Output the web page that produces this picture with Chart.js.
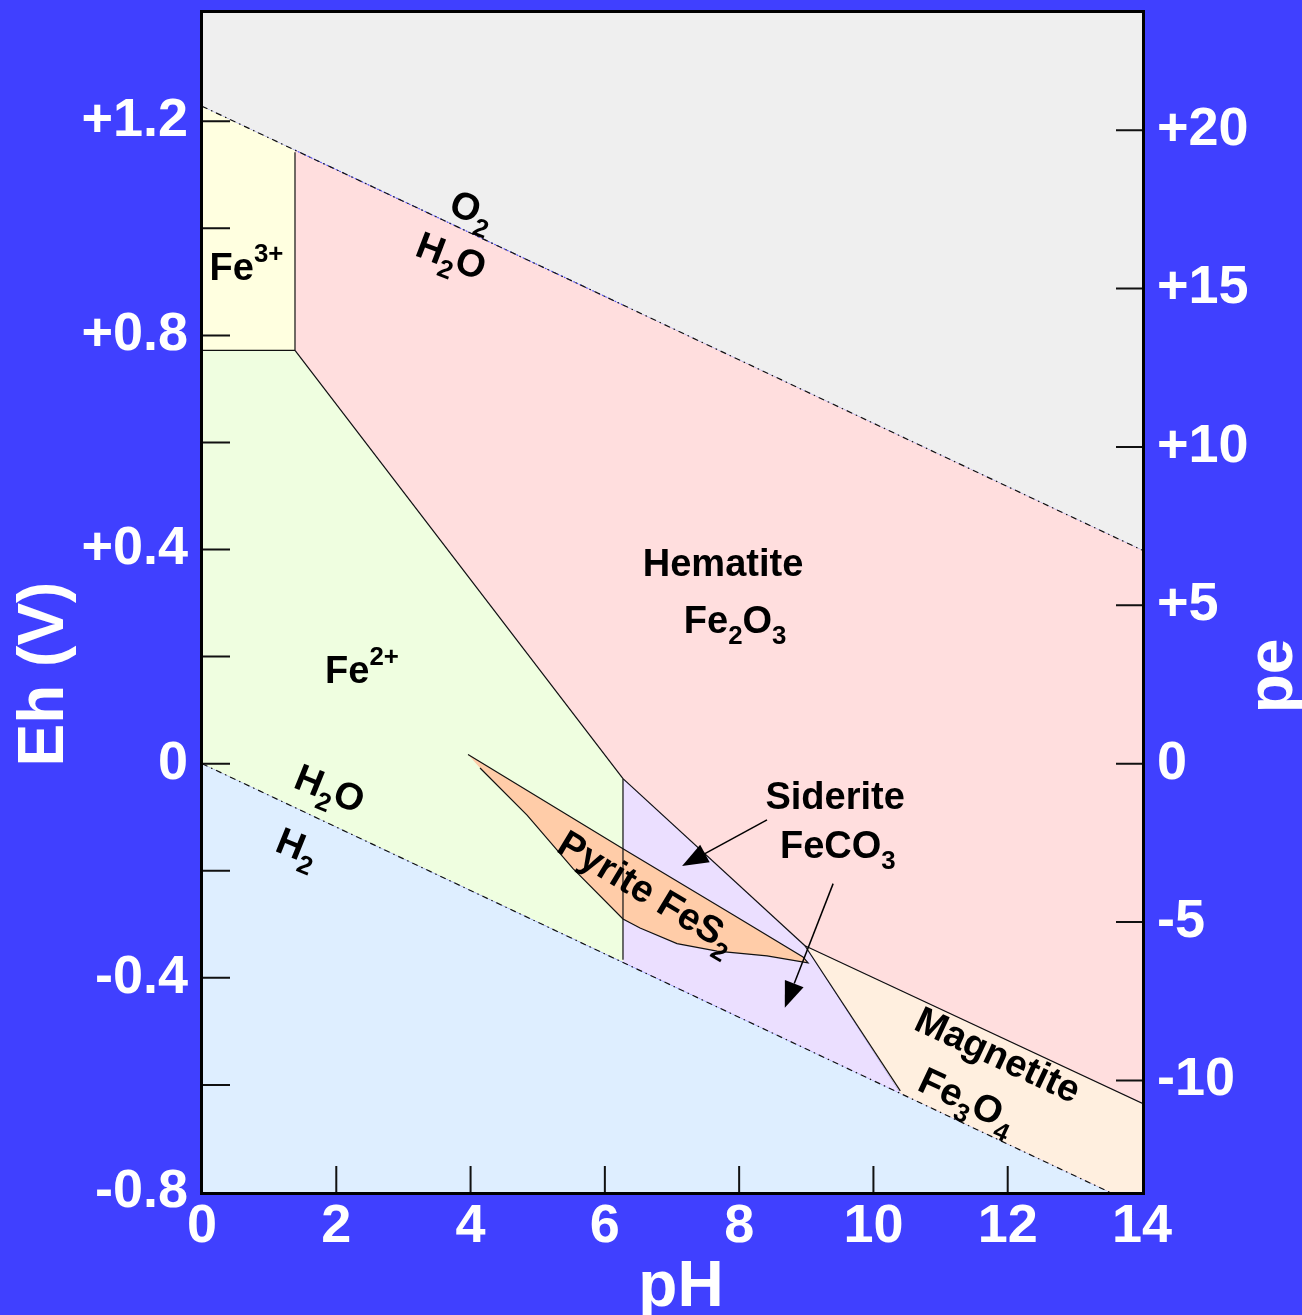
<!DOCTYPE html>
<html><head><meta charset="utf-8">
<script src="https://cdn.jsdelivr.net/npm/chart.js@4.4.1/dist/chart.umd.min.js"></script>
<style>
html,body{margin:0;padding:0;background:#4040ff;overflow:hidden}
#wrap{width:1302px;height:1315px;position:relative}
canvas{display:block}
</style></head><body>
<div id="wrap"><canvas id="c" width="1302" height="1315"></canvas></div>
<script>
// ---------- tick values / labels ----------
const pHTicks = [0, 2, 4, 6, 8, 10, 12, 14];
const pHTickLabels = ['0', '2', '4', '6', '8', '10', '12', '14'];
const ehTicks = [-0.8, -0.6, -0.4, -0.2, 0, 0.2, 0.4, 0.6, 0.8, 1.0, 1.2];
const ehLabelValues = [-0.8, -0.4, 0, 0.4, 0.8, 1.2];
const ehLabelTexts = ['-0.8', '-0.4', '0', '+0.4', '+0.8', '+1.2'];
const peTicks = [-10, -5, 0, 5, 10, 15, 20];
const peTickLabels = ['-10', '-5', '0', '+5', '+10', '+15', '+20'];
const ehRange = [-0.8, 1.404];
const peRange = [-13.52, 23.73];

// ---------- water stability lines [pH, Eh] ----------
const o2Line = [[0, 1.228], [14, 0.399]];
const h2Line = [[0, 0], [14, -0.829]];
const o2Artifact = [[1.385, 1.146], [6.3, 0.855]];

// ---------- stability fields [pH, Eh] ----------
const fieldO2 = [[0, 1.228], [14, 0.399], [14, 1.6], [0, 1.6]];
const fieldFe3 = [[0, 1.228], [1.385, 1.146], [1.385, 0.772], [0, 0.772]];
const fieldHematite = [[1.385, 1.146], [14, 0.399], [14, -0.634], [8.98, -0.340], [6.27, -0.028], [1.385, 0.772]];
const fieldFe2 = [[0, 0.772], [1.385, 0.772], [6.27, -0.028], [6.27, -0.371], [0, 0]];
const fieldSiderite = [[6.27, -0.028], [8.98, -0.340], [10.40, -0.616], [6.27, -0.371]];
const fieldMagnetite = [[8.98, -0.340], [14, -0.634], [14, -0.829], [10.40, -0.616]];
const fieldH2 = [[0, 0], [14, -0.829], [14, -1.0], [0, -1.0]];
const fieldPyrite = [[3.962, 0.017], [6.270, -0.159], [7.909, -0.282], [8.951, -0.361], [9.026, -0.372],
  [8.415, -0.359], [7.671, -0.350], [7.075, -0.336], [6.524, -0.307], [6.270, -0.290],
  [5.526, -0.196], [4.841, -0.096], [4.141, -0.008]];

// ---------- field boundaries [pH, Eh] ----------
const bFe3Horiz = [[0, 0.772], [1.385, 0.772]];
const bFe3Vert = [[1.385, 1.142], [1.385, 0.772]];
const bFe2Hem = [[1.385, 0.772], [6.27, -0.028]];
const bFe2Sid = [[6.27, -0.028], [6.27, -0.366]];
const bSidHem = [[6.27, -0.028], [8.98, -0.340]];
const bHemMag = [[8.98, -0.340], [14, -0.634]];
const bSidMag = [[8.98, -0.340], [10.40, -0.611]];

const pts = a => a.map(([x, y]) => ({x, y}));
const FONT = '"Liberation Sans", Arial, sans-serif';

function field(arr, color, order) {
  return {data: pts(arr), showLine: true, fill: 'shape', backgroundColor: color,
    borderColor: 'rgba(0,0,0,0)', borderWidth: 0, pointRadius: 0, order};
}
function line(arr, dash, order, color, width) {
  return {data: pts(arr), showLine: true, fill: false, borderColor: color || '#111',
    borderWidth: width || 1.2, borderDash: dash || [], pointRadius: 0, order};
}

const datasets = [
  line(o2Line, [6, 4, 1.5, 4], 0),
  line(h2Line, [6, 4, 1.5, 4], 0),
  line(o2Artifact, [1.5, 2], 0, 'rgba(70,70,255,0.9)', 1.2),
  line(bFe3Horiz, [], 0),
  line(bFe3Vert, [], 0),
  line(bFe2Hem, [], 0),
  line(bFe2Sid, [], 0),
  line(bSidHem, [], 0),
  line(bHemMag, [], 0),
  line(bSidMag, [], 0),
  Object.assign(field(fieldPyrite, '#ffcca8', 1), {borderColor: '#111', borderWidth: 1.2}),
  field(fieldO2, '#efefef', 5),
  field(fieldFe3, '#ffffe0', 5),
  field(fieldHematite, '#ffdede', 5),
  field(fieldFe2, '#effee0', 5),
  field(fieldSiderite, '#ebdfff', 5),
  field(fieldMagnetite, '#ffefdf', 5),
  field(fieldH2, '#deeeff', 5)
];

// ---------- annotation text ----------
const annotations = [
  {parts: [['Fe', 0], ['3+', 1]], at: [0.663, 0.929], rot: 0},
  {parts: [['Fe', 0], ['2+', 1]], at: [2.383, 0.176], rot: 0},
  {parts: [['Hematite', 0]], at: [7.76, 0.376], rot: 0},
  {parts: [['Fe', 0], ['2', -1], ['O', 0], ['3', -1]], at: [7.94, 0.269], rot: 0},
  {parts: [['Siderite', 0]], at: [9.43, -0.060], rot: 0},
  {parts: [['FeCO', 0], ['3', -1]], at: [9.47, -0.151], rot: 0},
  {parts: [['O', 0], ['2', -1]], at: [4.03, 1.037], rot: 21},
  {parts: [['H', 0], ['2', -1], ['O', 0]], at: [3.72, 0.950], rot: 21},
  {parts: [['H', 0], ['2', -1], ['O', 0]], at: [1.91, -0.045], rot: 22},
  {parts: [['H', 0], ['2', -1]], at: [1.43, -0.153], rot: 22},
  {parts: [['Pyrite FeS', 0], ['2', -1]], at: [6.64, -0.237], rot: 31},
  {parts: [['Magnetite', 0]], at: [11.86, -0.542], rot: 25},
  {parts: [['Fe', 0], ['3', -1], ['O', 0], ['4', -1]], at: [11.41, -0.626], rot: 25}
];
const arrows = [
  {from: [8.415, -0.105], to: [7.15, -0.191]},
  {from: [9.40, -0.224], to: [8.68, -0.456]}
];

function drawRich(ctx, parts, cx, cy, size, rot) {
  ctx.save();
  ctx.translate(cx, cy);
  ctx.rotate(rot * Math.PI / 180);
  let w = 0;
  const items = parts.map(([t, m]) => {
    const s = m === 0 ? size : size * 0.68;
    ctx.font = `bold ${s}px ${FONT}`;
    const it = {t, s, x: w, dy: m === 0 ? 0 : (m < 0 ? size * 0.28 : -size * 0.48)};
    w += ctx.measureText(t).width;
    return it;
  });
  ctx.fillStyle = '#000';
  ctx.textBaseline = 'alphabetic';
  ctx.textAlign = 'left';
  items.forEach(it => {
    ctx.font = `bold ${it.s}px ${FONT}`;
    ctx.fillText(it.t, -w / 2 + it.x, size * 0.358 + it.dy);
  });
  ctx.restore();
}

const overlay = {
  id: 'overlay',
  afterDatasetsDraw(chart) {
    const {ctx, chartArea: a, scales} = chart;
    const X = v => scales.x.getPixelForValue(v);
    const Y = v => scales.y.getPixelForValue(v);
    ctx.save();
    // inward ticks
    ctx.strokeStyle = '#111';
    ctx.lineWidth = 2;
    ctx.beginPath();
    scales.x.ticks.forEach(t => {
      const px = X(t.value);
      if (px <= a.left + 2 || px >= a.right - 2) return;
      ctx.moveTo(px, a.bottom); ctx.lineTo(px, a.bottom - 26);
    });
    scales.y.ticks.forEach(t => {
      const py = Y(t.value);
      if (py <= a.top + 2 || py >= a.bottom - 2) return;
      ctx.moveTo(a.left, py); ctx.lineTo(a.left + 28, py);
    });
    scales.y2.ticks.forEach(t => {
      const py = scales.y2.getPixelForValue(t.value);
      if (py <= a.top + 2 || py >= a.bottom - 2) return;
      ctx.moveTo(a.right, py); ctx.lineTo(a.right - 26, py);
    });
    ctx.stroke();
    // frame
    ctx.lineWidth = 3;
    ctx.strokeStyle = '#000';
    ctx.strokeRect(a.left - 0.5, a.top - 0.5, a.right - a.left + 2, a.bottom - a.top + 2);
    // arrows
    arrows.forEach(ar => {
      const x1 = X(ar.from[0]), y1 = Y(ar.from[1]), x2 = X(ar.to[0]), y2 = Y(ar.to[1]);
      const ang = Math.atan2(y2 - y1, x2 - x1);
      const hl = 26, hw = 10;
      const bx = x2 - hl * Math.cos(ang), by = y2 - hl * Math.sin(ang);
      ctx.lineWidth = 1.5;
      ctx.beginPath(); ctx.moveTo(x1, y1); ctx.lineTo(bx, by); ctx.stroke();
      ctx.fillStyle = '#000';
      ctx.beginPath();
      ctx.moveTo(x2, y2);
      ctx.lineTo(bx + hw * Math.sin(ang), by - hw * Math.cos(ang));
      ctx.lineTo(bx - hw * Math.sin(ang), by + hw * Math.cos(ang));
      ctx.closePath(); ctx.fill();
    });
    // labels
    annotations.forEach(l => drawRich(ctx, l.parts, X(l.at[0]), Y(l.at[1]), 38, l.rot));
    ctx.restore();
  },
  afterDraw(chart) {
    const {ctx} = chart;
    ctx.save();
    ctx.fillStyle = '#fff';
    ctx.font = `bold 64px ${FONT}`;
    ctx.textAlign = 'center';
    ctx.textBaseline = 'alphabetic';
    // Eh (V)
    ctx.save(); ctx.translate(63, 674); ctx.rotate(-Math.PI / 2); ctx.fillText('Eh (V)', 0, 0); ctx.restore();
    // pe
    ctx.save(); ctx.translate(1292, 676); ctx.rotate(-Math.PI / 2); ctx.fillText('pe', 0, 0); ctx.restore();
    // pH
    ctx.fillText('pH', 681, 1306);
    ctx.restore();
  }
};

const zeroPad = s => { s.paddingLeft = 0; s.paddingRight = 0; s.paddingTop = 0; s.paddingBottom = 0; };
const tickFont = {family: FONT, size: 54, weight: 'bold'};

new Chart(document.getElementById('c'), {
  type: 'scatter',
  data: {datasets},
  options: {
    responsive: false,
    animation: false,
    devicePixelRatio: 1,
    layout: {padding: {top: 12, left: 0, right: 0, bottom: 0}},
    plugins: {legend: {display: false}, tooltip: {enabled: false}},
    scales: {
      x: {
        type: 'linear', position: 'bottom', min: 0, max: 14,
        grid: {display: false, drawTicks: false}, border: {display: false},
        afterBuildTicks: s => { s.ticks = pHTicks.map(v => ({value: v})); },
        afterFit: s => { s.height = 123; zeroPad(s); },
        ticks: {color: '#fff', font: tickFont, padding: 3, autoSkip: false, maxRotation: 0,
          callback: v => { const i = pHTicks.indexOf(v); return i < 0 ? '' : pHTickLabels[i]; }}
      },
      y: {
        type: 'linear', position: 'left', min: ehRange[0], max: ehRange[1],
        grid: {display: false, drawTicks: false}, border: {display: false},
        afterBuildTicks: s => { s.ticks = ehTicks.map(v => ({value: v})); },
        afterFit: s => { s.width = 202; zeroPad(s); },
        ticks: {color: '#fff', font: tickFont, padding: 14, autoSkip: false,
          callback: v => { const i = ehLabelValues.findIndex(a => Math.abs(a - v) < 1e-6); return i < 0 ? '' : ehLabelTexts[i]; }}
      },
      y2: {
        type: 'linear', position: 'right', min: peRange[0], max: peRange[1],
        grid: {display: false, drawTicks: false}, border: {display: false},
        afterBuildTicks: s => { s.ticks = peTicks.map(v => ({value: v})); },
        afterFit: s => { s.width = 160; zeroPad(s); },
        ticks: {color: '#fff', font: tickFont, padding: 15, autoSkip: false,
          callback: v => { const i = peTicks.indexOf(v); return i < 0 ? '' : peTickLabels[i]; }}
      }
    }
  },
  plugins: [overlay]
});
</script>
</body></html>
